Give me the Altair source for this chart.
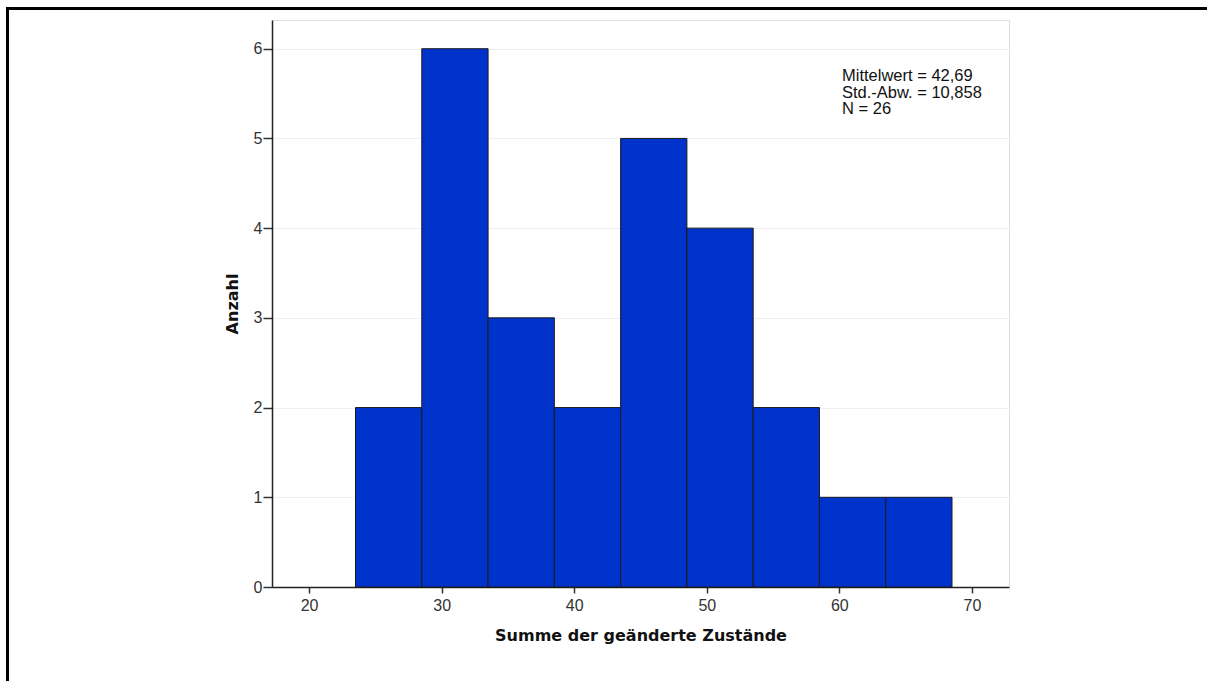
import altair as alt
import pandas as pd

bin_start = [23.5, 28.5, 33.5, 38.5, 43.5, 48.5, 53.5, 58.5, 63.5]
bin_end = [28.5, 33.5, 38.5, 43.5, 48.5, 53.5, 58.5, 63.5, 68.5]
counts = [2, 6, 3, 2, 5, 4, 2, 1, 1]
x_ticks = [20, 30, 40, 50, 60, 70]
y_ticks = [0, 1, 2, 3, 4, 5, 6]
stats_lines = ["Mittelwert = 42,69", "Std.-Abw. = 10,858", "N = 26"]

df = pd.DataFrame({"start": bin_start, "end": bin_end, "count": counts})

W, H = 737, 567
LEFT, TOP = 272, 20

xs = alt.Scale(domain=[17.2, 72.8], nice=False, zero=False)
ys = alt.Scale(domain=[0, 6.32], nice=False)

bars = alt.Chart(df).mark_rect(
    color="#0033CC", stroke="#1a1a1a", strokeWidth=1
).encode(
    x=alt.X("start:Q", scale=xs, axis=alt.Axis(
        values=x_ticks, title="Summe der geänderte Zustände", grid=False,
        domainColor="#222", domainWidth=1.5, tickColor="#333", tickSize=6, tickWidth=1.5,
        labelFont="Liberation Sans", labelFontSize=16, labelColor="#333", labelPadding=4,
        titleFont="DejaVu Sans", titleFontSize=16, titleFontWeight="bold", titleColor="#111",
        titlePadding=14)),
    x2="end:Q",
    y=alt.Y("count:Q", scale=ys, axis=alt.Axis(
        values=y_ticks, title="Anzahl", grid=True, gridColor="#f0f0f0", gridWidth=1,
        domainColor="#222", domainWidth=1.5, tickColor="#333", tickSize=9, tickWidth=1.5,
        labelFont="Liberation Sans", labelFontSize=16, labelColor="#333", labelPadding=1,
        titleFont="DejaVu Sans", titleFontSize=16, titleFontWeight="bold", titleColor="#111",
        titlePadding=13)),
    y2=alt.datum(0),
)

stats_df = pd.DataFrame({"t": ["\n".join(stats_lines)]})
stats = alt.Chart(stats_df).mark_text(
    align="left", baseline="alphabetic", font="Liberation Sans", fontSize=16.5,
    lineHeight=16.5, color="#111", lineBreak="\n"
).encode(x=alt.value(570), y=alt.value(61), text="t:N")

frame_df = pd.DataFrame({"a": [1]})
frame = alt.Chart(frame_df).mark_rect(
    fill=None, stroke="black", strokeWidth=3, clip=False
).encode(x=alt.value(-264.5), x2=alt.value(960), y=alt.value(-11.5), y2=alt.value(700))

chart = alt.layer(frame, bars, stats).properties(
    width=W, height=H,
    autosize=alt.AutoSizeParams(type="none"),
    padding={"left": LEFT, "top": TOP, "right": 1207 - LEFT - W, "bottom": 681 - TOP - H},
).configure_view(stroke="#888", strokeWidth=2).configure(background="white")

chart.save("out.html", embed_options={"renderer": "svg", "actions": False})
